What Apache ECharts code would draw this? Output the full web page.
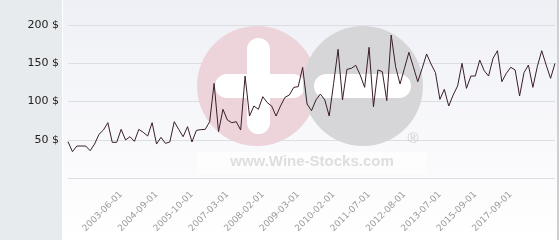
<!DOCTYPE html>
<html><head><meta charset="utf-8">
<script src="https://cdn.jsdelivr.net/npm/echarts/dist/echarts.min.js"></script>
<style>html,body{margin:0;padding:0;background:#fff}#c{width:560px;height:240px}</style>
</head><body><div id="c"></div>
<script>
const dates = [
'2002-06-01','2002-07-01','2002-08-01','2002-09-01','2002-10-01','2002-11-01','2002-12-01','2003-01-01','2003-02-01','2003-03-01','2003-04-01','2003-05-01',
'2003-06-01','2003-08-01','2003-10-01','2003-12-01','2004-02-01','2004-04-01','2004-05-01','2004-07-01','2004-09-01',
'2004-11-01','2005-01-01','2005-03-01','2005-04-01','2005-05-01','2005-07-01','2005-09-01','2005-10-01',
'2005-12-01','2006-02-01','2006-04-01','2006-06-01','2006-08-01','2006-10-01','2006-12-01','2007-03-01',
'2007-04-01','2007-06-01','2007-07-01','2007-09-01','2007-10-01','2007-11-01','2008-01-01','2008-02-01',
'2008-04-01','2008-06-01','2008-07-01','2008-09-01','2008-10-01','2008-12-01','2009-02-01','2009-03-01',
'2009-04-01','2009-06-01','2009-07-01','2009-08-01','2009-10-01','2009-11-01','2010-01-01','2010-02-01',
'2010-04-01','2010-06-01','2010-08-01','2010-10-01','2010-12-01','2011-02-01','2011-04-01','2011-07-01',
'2011-09-01','2011-11-01','2012-01-01','2012-02-01','2012-03-01','2012-05-01','2012-07-01','2012-08-01',
'2012-09-01','2012-10-01','2012-12-01','2013-01-01','2013-02-01','2013-04-01','2013-05-01','2013-07-01',
'2013-10-01','2014-01-01','2014-04-01','2014-07-01','2014-10-01','2015-01-01','2015-05-01','2015-09-01',
'2015-12-01','2016-03-01','2016-06-01','2016-09-01','2016-12-01','2017-03-01','2017-06-01','2017-09-01',
'2017-12-01','2018-03-01','2018-06-01','2018-09-01','2018-12-01','2019-03-01','2019-06-01','2019-09-01','2019-12-01','2020-03-01'
];
const prices = [
47.5, 34.4, 41.8, 41.8, 41.8, 35.7, 44.4, 57.1, 62.7, 72.3,
46.6, 46.6, 63.6, 49.7, 54.0, 47.9, 63.6, 59.7, 54.9, 72.3,
44.4, 53.2, 45.3, 47.1, 73.6, 63.6, 54.0, 67.1, 47.1, 62.3,
63.2, 63.6, 73.6, 123.7, 60.6, 89.8, 75.8, 72.3, 73.6, 62.7,
133.3, 81.0, 94.1, 89.8, 106.3, 98.5, 94.1, 81.0, 94.1, 105.4,
108.5, 118.5, 119.4, 144.7, 96.7, 88.0, 102.0, 109.8, 102.0, 81.0,
123.7, 168.2, 102.0, 142.0, 143.4, 147.3, 134.6, 118.5, 170.8, 93.2,
141.2, 139.0, 101.1, 186.9, 145.5, 122.9, 143.4, 164.3, 145.5, 125.9,
143.4, 162.1, 149.0, 137.7, 102.8, 115.9, 94.1, 108.5, 120.3, 149.9,
117.2, 133.3, 133.3, 154.2, 140.3, 133.3, 156.4, 166.4, 125.9, 136.8,
144.7, 141.2, 107.2, 137.7, 147.7, 118.5, 145.5, 166.4, 147.7, 130.3,
149.9
];
const xTickLabels = ['2003-06-01','2004-09-01','2005-10-01','2007-03-01','2008-02-01','2009-03-01',
  '2010-02-01','2011-07-01','2012-08-01','2013-07-01','2015-09-01','2017-09-01'];
const yTickLabels = ['50 $','100 $','150 $','200 $'];
const watermarkText = 'www.Wine-Stocks.com';

const chart = echarts.init(document.getElementById('c'), null, {renderer:'canvas'});
chart.setOption({
  backgroundColor: 'transparent',
  animation: false,
  graphic: [
    {type:'rect', z:-20, silent:true, shape:{x:0,y:0,width:62,height:240}, style:{fill:'#e7ebee'}},
    {type:'rect', z:-20, silent:true, shape:{x:62,y:0,width:1,height:240}, style:{fill:'#ffffff'}},
    {type:'rect', z:-20, silent:true, shape:{x:63,y:0,width:494,height:240},
      style:{fill:new echarts.graphic.LinearGradient(0,0,0,1,[{offset:0,color:'#eff0f6'},{offset:1,color:'#ffffff'}])}},
    {type:'rect', z:-20, silent:true, shape:{x:557,y:0,width:2,height:240}, style:{fill:'#cfcfd2'}},
    {type:'rect', z:-20, silent:true, shape:{x:559,y:0,width:1,height:240}, style:{fill:'#ffffff'}},
    {type:'rect', z:1, silent:true, shape:{x:197,y:152,width:230,height:22}, style:{fill:'rgba(255,255,255,0.6)'}},
    {type:'circle', z:1, silent:true, shape:{cx:257,cy:86,r:60}, style:{fill:'#ecd4da'}},
    {type:'rect', z:1, silent:true, shape:{x:247,y:38,width:23,height:96,r:11.5}, style:{fill:'#ffffff'}},
    {type:'rect', z:1, silent:true, shape:{x:215,y:74,width:90,height:24,r:12}, style:{fill:'#ffffff'}},
    {type:'circle', z:1, silent:true, shape:{cx:363,cy:86,r:60}, style:{fill:'#d6d6d8'}},
    {type:'rect', z:1, silent:true, shape:{x:314,y:74,width:97,height:24,r:12}, style:{fill:'#ffffff'}},
    {type:'text', z:1, silent:true, style:{x:413,y:139,text:'®',fill:'#d0d0d2',font:'15px "Liberation Sans", Arial, sans-serif',align:'center',verticalAlign:'middle'}},
    {type:'text', z:1, silent:true, style:{x:312,y:162,text:watermarkText,fill:'#dedee0',font:'bold 15px "Liberation Sans", Arial, sans-serif',align:'center',verticalAlign:'middle'}}
  ],
  grid: {left:68, right:5, top:25, bottom:62},
  xAxis: {
    type:'category', data:dates, boundaryGap:false,
    axisLine:{show:false}, axisTick:{show:false},
    axisLabel:{
      interval:(i,v)=>xTickLabels.indexOf(v)>=0,
      rotate:45, margin:15, color:'#9a9a9a', fontSize:9, fontFamily:'DejaVu Sans'
    },
    splitLine:{show:false}
  },
  yAxis: {
    type:'value', min:0, max:200, interval:50,
    axisLine:{show:false}, axisTick:{show:false},
    axisLabel:{
      margin:9, color:'#222222', fontSize:11, fontFamily:'DejaVu Sans',
      formatter:(v)=>{ const i = v/50 - 1; return i>=0 ? yTickLabels[i] : ''; }
    },
    splitLine:{show:true, lineStyle:{color:'#dddee2', width:1}}
  },
  series: [{
    type:'line', data:prices, z:3, showSymbol:false, symbol:'none',
    lineStyle:{color:'#3a1e2a', width:1}
  }]
});
</script>
</body></html>
